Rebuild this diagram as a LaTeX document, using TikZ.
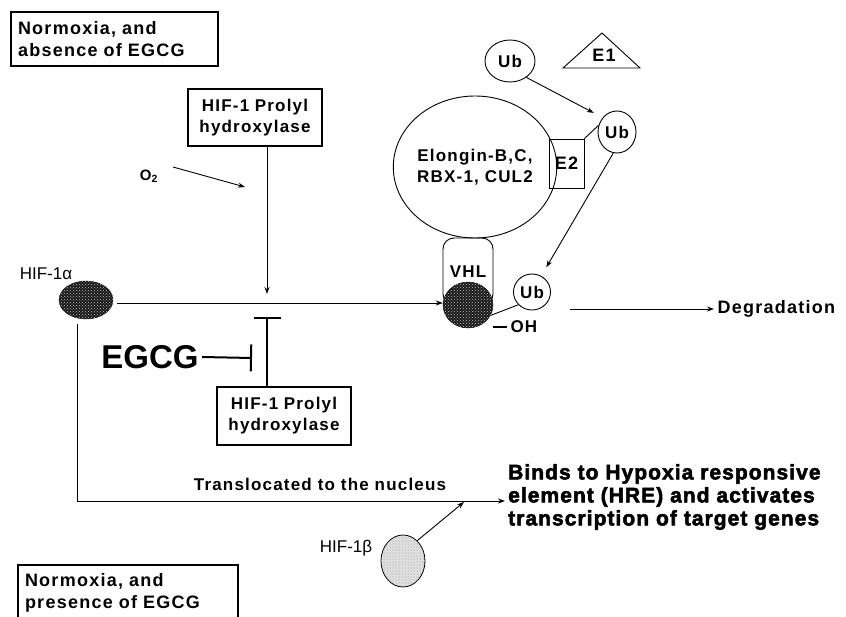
\documentclass[tikz,border=0pt]{standalone}
\usepackage{fontspec}
\setmainfont{Liberation Sans}
\newfontfamily\spacedbf[LetterSpace=7]{Liberation Sans Bold}
\newfontfamily\heavybf[LetterSpace=5,FakeBold=2.5]{Liberation Sans Bold}
\usetikzlibrary{%
   arrows.meta,%
   calc,%
   patterns,%
   shapes.geometric}

\begin{document}
\begin{tikzpicture}
[x=1pt,y=-1pt,
 typeBox/.style={rectangle,draw,line width=1.2pt,inner sep=0pt,text width=128pt,inner xsep=3pt,align=center,font=\fontsize{17}{21}\selectfont\spacedbf},
 typeNote/.style={rectangle,draw,line width=1.2pt,inner sep=0pt,text width=193pt,inner xsep=7pt,align=left,font=\fontsize{18}{22}\selectfont\spacedbf},
 typeUb/.style={ellipse,draw,line width=0.9pt,inner sep=0pt,font=\fontsize{17}{19}\selectfont\spacedbf},
 typeDark/.style={ellipse,draw,fill=black!90,inner sep=0pt,postaction={pattern=crosshatch dots,pattern color=white!75!black}},
 typeLight/.style={ellipse,draw,line width=0.8pt,fill=gray!25,inner sep=0pt,postaction={pattern=dots,pattern color=gray!90}},
 lbl/.style={font=\fontsize{17}{21}\selectfont\spacedbf},
 plain/.style={font=\fontsize{17}{19}\selectfont},
 arr/.style={-{Stealth[length=7pt,width=5pt]},line width=0.9pt},
 inh/.style={-{Bar[width=27pt]},line width=2pt}]
\useasboundingbox (0,0) rectangle (846,616);
% boxes
\node[typeNote,minimum height=54pt] (norm1) at (114.5,39) {Normoxia, and\\absence of EGCG};
\node[typeNote,text width=206pt,minimum height=56pt] (norm2) at (128,593) {Normoxia, and\\presence of EGCG};
\node[typeBox,minimum height=57pt] (PH1) at (255,117.5) {HIF-1 Prolyl\\hydroxylase};
\node[typeBox,minimum height=58pt] (PH2) at (284,416) {HIF-1 Prolyl\\hydroxylase};
% HIF-1 alpha side
\node[typeDark,minimum width=54pt,minimum height=38pt] (HIFa) at (86,300) {};
\node[plain] (HIFaLab) at (46,274) {HIF-1α};
\node[font=\fontsize{15}{17}\selectfont\bfseries] (O2) at (149,176) {O\textsubscript{2}};
\node[font=\fontsize{33}{35}\selectfont\bfseries] (EGCG) at (150,357) {EGCG};
\coordinate (meet) at (267,303);
\coordinate (tbar) at (267,317);
\coordinate (ebar) at (252,358);
\coordinate (o2a)  at (173,167);
\coordinate (o2b)  at (245,187);
% ubiquitin complex
\node[ellipse,draw,line width=0.9pt,inner sep=0pt,minimum width=146pt,minimum height=142pt,align=center,lbl] (elong) at (475,167) {Elongin-B,C,\\RBX-1, CUL2};
\node[rectangle,draw,line width=0.9pt,inner sep=0pt,minimum width=35pt,minimum height=49pt,lbl,font=\fontsize{18}{20}\selectfont\spacedbf] (E2) at (566.5,163.5) {E2};
\node[typeUb,minimum width=50pt,minimum height=42pt] (Ub1) at (510,61) {Ub};
\node[typeUb,minimum width=38pt,minimum height=42pt] (Ub2) at (617,132) {Ub};
\node[typeUb,minimum width=37pt,minimum height=36pt] (Ub3) at (532,292) {Ub};
\draw[line width=0.9pt] (563,68) -- (602,33) -- (640,68) -- cycle;
\node[lbl,font=\fontsize{18}{20}\selectfont\spacedbf] (E1) at (604,55) {E1};
\node[rectangle,draw,line width=0.9pt,rounded corners=11pt,inner sep=0pt,minimum width=50pt,minimum height=67pt,lbl] (VHL) at (468,271.5) {VHL};
\node[typeDark,minimum width=50pt,minimum height=46pt] (HIFd) at (468,305) {};
\node[lbl,anchor=west] (OH) at (507,327) {OH};
\node[lbl,font=\fontsize{18}{20}\selectfont\spacedbf,anchor=west] (deg) at (714,309) {Degradation};
\coordinate (degstart) at (570,309);
% nucleus
\node[lbl] (transl) at (320,484) {Translocated to the nucleus};
\node[font=\fontsize{21}{23}\selectfont\heavybf,anchor=west,align=left,inner sep=0pt] (binds) at (508,497) {Binds to Hypoxia responsive\\element (HRE) and activates\\transcription of target genes};
\node[typeLight,minimum width=44pt,minimum height=52pt] (HIFb) at (403,561) {};
\node[plain] (HIFbLab) at (346,548) {HIF-1β};
\coordinate (bjoin) at (464,502);
% connectors
\draw[arr,shorten <=4pt] (HIFa.east |- meet) -- (HIFd.west |- meet);
\draw[arr] (PH1.south -| meet) -- ([yshift=9pt]meet);
\draw[inh] (PH2.north -| tbar) -- (tbar);
\draw[inh] (EGCG.east) -- (ebar);
\draw[arr] (o2a) -- (o2b);
\draw[arr,shorten >=10pt] (Ub1.-45) -- (Ub2.135);
\draw[line width=0.9pt] (E2.north east) -- (Ub2.160);
\draw[arr,shorten >=10pt] (Ub2.-100) -- (Ub3.60);
\draw[line width=0.9pt] (HIFd.-25) -- (Ub3.223);
\draw[line width=1.8pt] (OH.west) -- (OH.west -| HIFd.east);
\draw[arr] (degstart) -- (deg.west);
\draw[arr,shorten <=5pt] ([xshift=-9pt]HIFa.south) |- ([xshift=-3pt,yshift=-4pt]binds.west);
\draw[arr] (HIFb.55) -- (bjoin);
\end{tikzpicture}
\end{document}
